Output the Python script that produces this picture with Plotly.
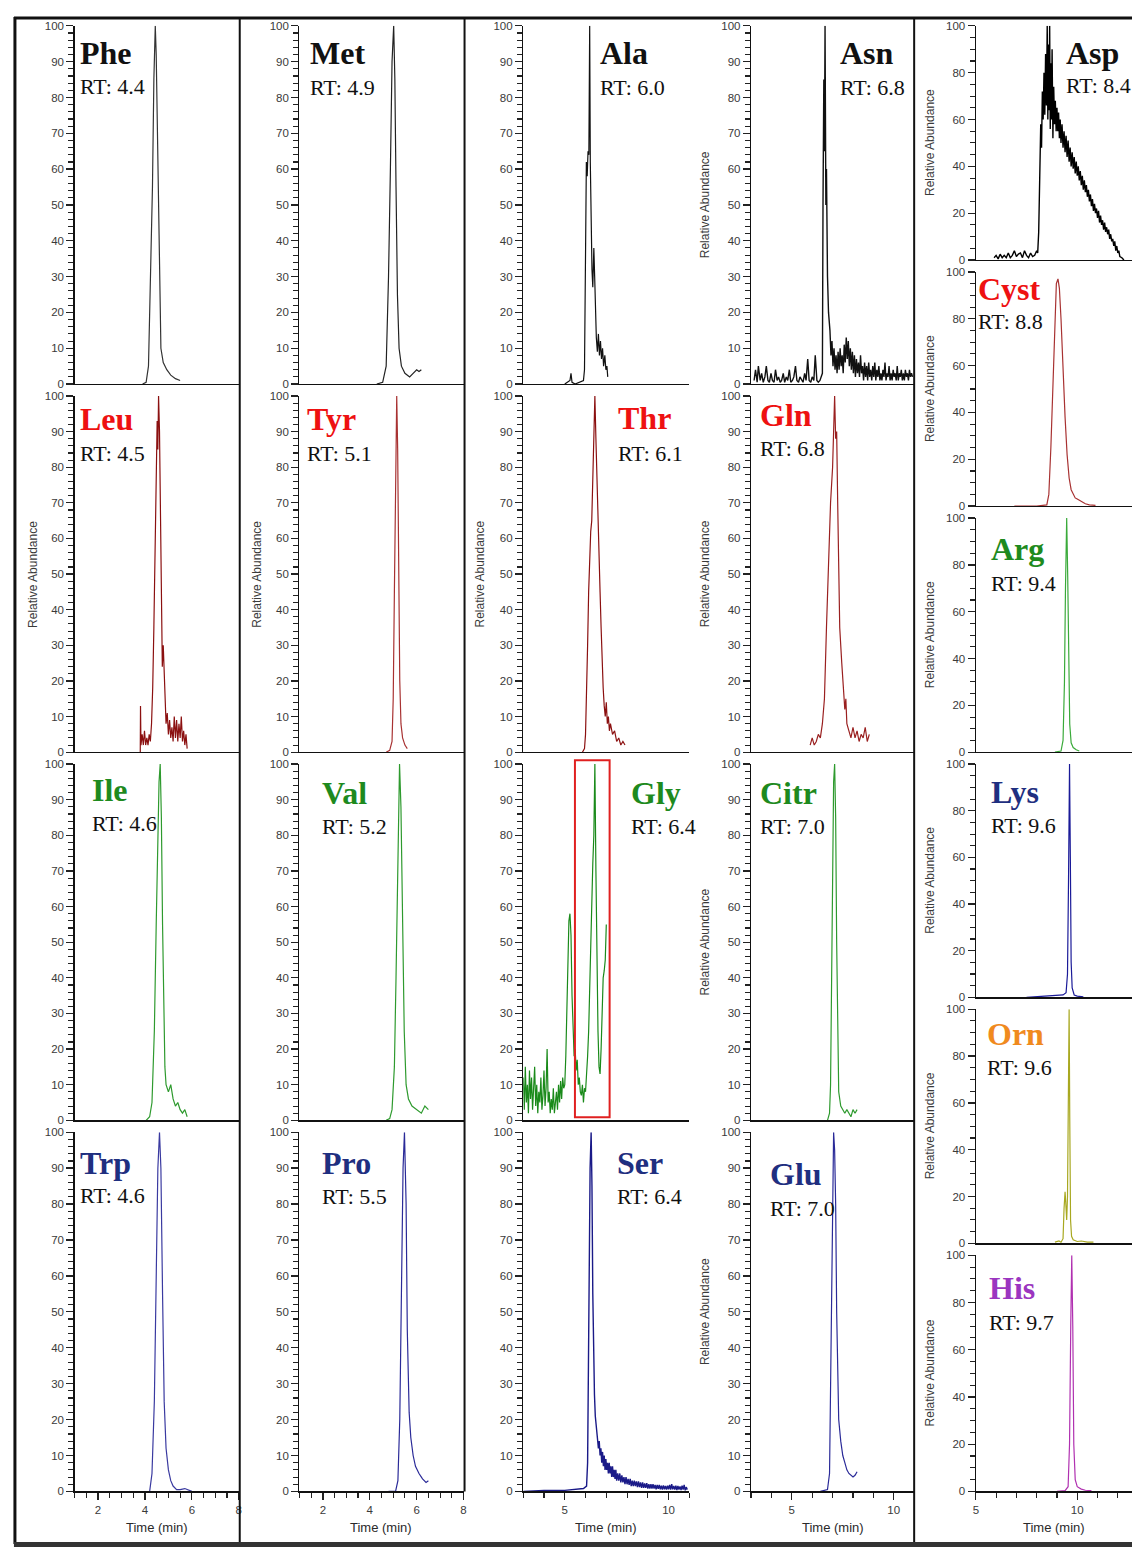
import plotly.graph_objects as go

W, H = 1135, 1553

# ---------------- data: (time [min], relative abundance [%]) ----------------
phe = [(3.9,0),(4.05,0.5),(4.15,5),(4.25,30),(4.32,55),(4.38,85),(4.44,100),(4.48,92),(4.53,70),(4.58,45),
       (4.63,22),(4.68,10),(4.78,6),(4.93,4),(5.1,2.5),(5.3,1.5),(5.5,1)]
met = [(4.3,0),(4.55,0.5),(4.7,5),(4.8,30),(4.88,60),(4.95,90),(5.02,100),(5.07,85),(5.12,55),(5.18,25),
       (5.25,10),(5.35,5),(5.5,3),(5.7,2),(5.85,3),(6.0,4),(6.1,3.5),(6.2,4)]
ala = [(5.0,0),(5.15,0.5),(5.25,1),(5.3,3),(5.35,0.5),(5.5,0),(5.7,0.5),(5.9,1),(5.95,4),(6.0,35),(6.04,62),
       (6.08,58),(6.12,65),(6.16,64),(6.2,100),(6.23,62),(6.27,45),(6.31,32),(6.35,27),(6.4,38),(6.44,30),
       (6.48,20),(6.52,13),(6.57,9),(6.62,14),(6.67,8),(6.72,12),(6.77,7),(6.82,10),(6.87,5),(6.93,8),
       (6.98,4),(7.03,5),(7.07,2)]
asn = [(3.15,1),(3.22,4),(3.3,0.5),(3.36,5),(3.45,1),(3.52,3),(3.6,0.5),(3.68,2),(3.75,5),(3.83,1),
       (3.9,0.5),(3.98,3),(4.05,1),(4.13,0.5),(4.2,4),(4.28,1),(4.35,2),(4.43,0.5),(4.5,1),(4.58,3),
       (4.65,0.5),(4.73,2),(4.8,1),(4.88,4),(4.95,0.5),(5.03,1),(5.1,2),(5.18,5),(5.25,1),(5.33,0.5),
       (5.4,2),(5.48,1),(5.55,0.5),(5.63,3),(5.7,1),(5.78,7),(5.85,1),(5.93,0.5),(6.0,2),(6.08,1),
       (6.15,8),(6.23,1),(6.3,0.5),(6.38,1),(6.45,2),(6.5,3),(6.53,50),(6.57,85),(6.6,65),(6.63,100),
       (6.67,50),(6.7,60),(6.75,30),(6.8,20),(6.87,15),(6.92,8),(6.97,12),(7.02,5),(7.07,10),(7.12,4),
       (7.17,8),(7.22,3),(7.27,9),(7.32,4),(7.37,10),(7.42,5),(7.47,8),(7.52,3),(7.57,11),(7.62,6),
       (7.67,13),(7.72,7),(7.77,12),(7.82,5),(7.87,10),(7.92,4),(7.97,9),(8.02,3),(8.07,8),(8.12,2),
       (8.17,7),(8.22,3),(8.27,6),(8.32,2),(8.37,8),(8.42,3),(8.47,5),(8.52,1),(8.57,6),(8.62,2),
       (8.67,5),(8.72,1),(8.77,6),(8.82,2),(8.87,4),(8.92,1),(8.97,5),(9.02,2),(9.07,6),(9.12,1),
       (9.17,4),(9.22,2),(9.27,5),(9.32,1),(9.37,3),(9.42,1),(9.47,4),(9.52,2),(9.57,6),(9.62,1),
       (9.67,3),(9.72,2),(9.77,5),(9.82,1),(9.87,3),(9.92,1),(9.97,4),(10.02,2),(10.07,3),(10.12,1),
       (10.17,5),(10.22,1),(10.27,3),(10.32,2),(10.37,4),(10.42,1),(10.47,3),(10.52,1),(10.57,4),
       (10.62,2),(10.67,3),(10.72,1),(10.77,4),(10.82,2),(10.87,3),(10.92,2)]
asp = [(5.9,1),(6.0,2),(6.1,0.5),(6.2,2.5),(6.3,1),(6.4,2),(6.5,1),(6.6,3),(6.7,1),(6.8,2),(6.9,4),
       (7.0,1.5),(7.1,2.5),(7.2,3),(7.3,1),(7.4,4),(7.5,2),(7.6,1),(7.7,3),(7.8,1.5),(7.9,2),(8.0,4),
       (8.05,3),(8.1,12),(8.15,35),(8.2,58),(8.24,48),(8.28,72),(8.32,60),(8.36,80),(8.4,62),(8.44,88),
       (8.48,66),(8.52,100),(8.55,60),(8.58,92),(8.61,64),(8.64,100),(8.67,56),(8.7,84),(8.73,60),
       (8.76,90),(8.8,52),(8.84,74),(8.88,58),(8.92,68),(8.96,55),(9.0,65),(9.04,55),(9.08,63),(9.12,52),
       (9.16,60),(9.2,50),(9.25,58),(9.3,48),(9.35,55),(9.4,46),(9.45,53),(9.5,44),(9.55,51),(9.6,42),
       (9.65,48),(9.7,40),(9.75,46),(9.8,39),(9.85,44),(9.9,37),(9.95,42),(10.0,36),(10.05,40),(10.1,34),
       (10.15,38),(10.2,32),(10.25,36),(10.3,30),(10.35,34),(10.4,29),(10.45,32),(10.5,27),(10.55,30),
       (10.6,25),(10.65,28),(10.7,23),(10.75,26),(10.8,21),(10.85,24),(10.9,20),(10.95,22),(11.0,18),
       (11.05,21),(11.1,16),(11.15,19),(11.2,15),(11.25,17),(11.3,13),(11.35,16),(11.4,12),(11.45,14),
       (11.5,11),(11.55,13),(11.6,9),(11.65,11),(11.7,8),(11.75,9),(11.8,6),(11.85,8),(11.9,4),(11.95,6),
       (12.0,3),(12.05,4),(12.1,1.5),(12.2,1),(12.3,0)]
leu = [(3.8,0),(3.81,13),(3.83,2),(3.88,5),(3.93,2),(3.98,6),(4.03,2),(4.08,4),(4.13,2),(4.18,5),(4.23,3),
       (4.28,8),(4.33,18),(4.38,35),(4.43,60),(4.48,82),(4.52,93),(4.55,85),(4.58,100),(4.62,90),(4.66,62),
       (4.7,38),(4.74,24),(4.78,30),(4.82,22),(4.86,13),(4.9,8),(4.95,11),(5.0,5),(5.05,9),(5.1,4),(5.15,7),
       (5.2,3),(5.25,10),(5.3,4),(5.35,9),(5.4,3),(5.45,8),(5.5,4),(5.55,10),(5.6,3),(5.65,6),(5.7,2),
       (5.75,5),(5.8,1)]
tyr = [(4.7,0),(4.85,0.5),(4.95,3),(5.0,15),(5.05,45),(5.1,80),(5.15,100),(5.19,85),(5.23,50),(5.28,20),
       (5.33,8),(5.4,4),(5.5,2),(5.6,1)]
thr = [(5.85,0),(5.95,1),(6.0,5),(6.05,15),(6.1,30),(6.15,45),(6.2,58),(6.25,62),(6.3,65),(6.35,80),
       (6.4,92),(6.45,100),(6.5,88),(6.55,75),(6.6,62),(6.65,55),(6.7,45),(6.75,35),(6.8,25),(6.85,18),
       (6.9,13),(6.95,10),(7.0,14),(7.05,8),(7.1,10),(7.15,6),(7.2,8),(7.3,5),(7.4,6),(7.5,3),(7.6,4),
       (7.7,2),(7.8,3),(7.9,2)]
gln = [(5.9,2),(6.0,4),(6.1,2),(6.2,3),(6.3,5),(6.4,4),(6.5,8),(6.6,15),(6.7,35),(6.8,55),(6.9,70),
       (7.0,80),(7.05,95),(7.1,100),(7.15,88),(7.2,90),(7.25,70),(7.3,55),(7.35,35),(7.45,25),(7.55,18),
       (7.6,12),(7.65,15),(7.7,8),(7.8,6),(7.9,4),(8.0,7),(8.1,4),(8.2,6),(8.3,3),(8.4,5),(8.5,4),(8.6,7),
       (8.7,3),(8.8,5)]
cyst = [(6.9,0),(8.0,0),(8.5,0.5),(8.6,5),(8.7,25),(8.8,55),(8.9,85),(8.97,95),(9.05,97),(9.12,93),
        (9.2,80),(9.3,55),(9.4,38),(9.5,22),(9.6,12),(9.7,7),(9.8,5),(9.9,3.5),(10.0,3),(10.2,2),(10.4,1),
        (10.6,0.5),(10.9,0.3)]
ile = [(4.05,0),(4.2,1),(4.3,5),(4.4,25),(4.48,55),(4.55,85),(4.6,95),(4.65,100),(4.7,85),(4.75,55),
       (4.8,30),(4.85,15),(4.9,10),(5.0,8),(5.1,10),(5.2,6),(5.3,4),(5.4,5),(5.5,3),(5.6,2),(5.7,3),(5.8,1)]
val = [(4.7,0),(4.85,0.5),(4.95,3),(5.05,15),(5.12,40),(5.2,75),(5.27,100),(5.33,88),(5.4,55),(5.47,25),
       (5.55,10),(5.65,6),(5.8,4),(6.0,3),(6.2,2),(6.35,4),(6.5,3)]
gly = [(3.0,12),(3.05,3),(3.1,15),(3.15,5),(3.2,10),(3.25,2),(3.3,14),(3.35,6),(3.4,12),(3.45,3),(3.5,9),
       (3.55,15),(3.6,4),(3.65,10),(3.7,2),(3.75,8),(3.8,5),(3.85,12),(3.9,3),(3.95,7),(4.0,14),(4.05,4),
       (4.1,9),(4.15,20),(4.2,5),(4.25,8),(4.3,2),(4.35,6),(4.4,3),(4.45,9),(4.5,2),(4.55,5),(4.6,8),
       (4.65,3),(4.7,10),(4.75,5),(4.8,11),(4.85,6),(4.9,12),(4.95,9),(5.0,10),(5.05,18),(5.1,30),
       (5.15,45),(5.2,56),(5.25,58),(5.3,52),(5.35,35),(5.4,22),(5.45,18),(5.5,20),(5.55,14),(5.6,17),
       (5.65,10),(5.7,12),(5.75,8),(5.8,7),(5.85,10),(5.9,5),(5.95,9),(6.0,8),(6.05,12),(6.1,18),(6.15,25),
       (6.2,38),(6.25,50),(6.3,55),(6.35,72),(6.4,80),(6.45,100),(6.5,70),(6.55,35),(6.6,25),(6.65,15),
       (6.7,13),(6.75,20),(6.8,28),(6.85,40),(6.9,42),(6.95,45),(7.0,55)]
citr = [(6.75,0),(6.85,2),(6.9,10),(6.95,35),(7.0,70),(7.05,95),(7.1,100),(7.15,85),(7.2,50),(7.25,20),
        (7.3,8),(7.4,4),(7.5,3),(7.6,2),(7.7,3),(7.8,2),(7.9,1),(8.0,3),(8.1,2),(8.2,3)]
arg = [(8.9,0),(9.2,0.5),(9.3,5),(9.37,30),(9.42,70),(9.48,100),(9.53,75),(9.58,35),(9.63,12),(9.7,4),
       (9.8,2),(9.95,1),(10.1,0.5)]
trp = [(4.2,0),(4.3,5),(4.4,25),(4.48,60),(4.55,90),(4.62,100),(4.68,90),(4.75,55),(4.82,25),(4.9,12),
       (5.0,6),(5.1,3),(5.2,1.5),(5.35,0.5),(5.5,0.5),(5.7,0.8),(5.85,0.5),(6.0,0)]
pro = [(4.8,0),(5.1,0),(5.2,3),(5.28,20),(5.35,55),(5.42,90),(5.48,100),(5.55,80),(5.6,45),(5.68,22),
       (5.75,15),(5.85,10),(5.95,7),(6.1,5),(6.25,3.5),(6.4,2.5),(6.5,3)]
ser = [(3.0,0),(4.0,0.3),(5.0,0.3),(5.6,0.6),(5.9,0.8),(6.05,1.5),(6.1,8),(6.14,35),(6.18,70),(6.22,90),
       (6.27,100),(6.31,85),(6.35,55),(6.39,35),(6.43,27),(6.47,21),(6.52,17),(6.57,15),(6.62,12),(6.66,14),
       (6.7,10),(6.74,12),(6.78,8),(6.82,11),(6.86,7),(6.9,10),(6.94,6),(6.98,9),(7.02,6),(7.06,8),(7.1,5),
       (7.14,8),(7.18,5),(7.22,7),(7.26,4),(7.3,7),(7.34,4),(7.38,6),(7.42,3.5),(7.46,6),(7.5,3),(7.55,5),
       (7.6,3),(7.65,5),(7.7,2.5),(7.75,4.5),(7.8,2.5),(7.85,4),(7.9,2),(7.95,4),(8.0,2),(8.05,3.5),
       (8.1,1.8),(8.15,3.5),(8.2,1.5),(8.25,3),(8.3,1.5),(8.35,3),(8.4,1.5),(8.45,2.8),(8.5,1.2),(8.55,2.8),
       (8.6,1.2),(8.65,2.5),(8.7,1),(8.75,2.5),(8.8,1),(8.85,2.2),(8.9,1),(8.95,2.3),(9.0,0.8),(9.05,2),
       (9.1,0.8),(9.15,2),(9.2,0.8),(9.25,2),(9.3,0.8),(9.35,1.8),(9.4,0.6),(9.45,1.8),(9.5,0.7),(9.55,1.8),
       (9.6,0.6),(9.65,1.6),(9.7,0.5),(9.75,1.7),(9.8,0.6),(9.85,1.5),(9.9,0.5),(9.95,1.6),(10.0,0.6),
       (10.05,1.8),(10.1,0.5),(10.15,2),(10.2,0.6),(10.25,1.5),(10.3,0.5),(10.35,1.6),(10.4,0.4),(10.45,1.5),
       (10.5,0.5),(10.55,1.4),(10.6,0.4),(10.65,1.6),(10.7,0.5),(10.75,1.8),(10.8,0.3),(10.85,1.2),(10.9,0.5)]
glu = [(6.4,0),(6.75,0.5),(6.85,5),(6.9,30),(6.95,65),(7.0,90),(7.05,100),(7.1,95),(7.15,80),(7.2,50),
       (7.25,30),(7.3,20),(7.4,14),(7.5,10),(7.6,8),(7.7,6),(7.8,5),(7.9,4.5),(8.0,4),(8.1,4.5),(8.2,5.5)]
lys = [(7.5,0),(8.0,0.3),(8.5,0.5),(9.0,0.8),(9.3,1),(9.45,2),(9.52,10),(9.57,50),(9.62,100),(9.66,60),
       (9.7,15),(9.75,4),(9.85,1),(10.0,0.5),(10.3,0.2)]
orn = [(8.9,0.5),(9.1,1),(9.2,0.5),(9.3,2),(9.35,15),(9.4,22),(9.43,18),(9.48,10),(9.52,20),(9.56,60),
       (9.6,100),(9.63,55),(9.67,10),(9.72,3),(9.8,1.5),(10.0,0.8),(10.2,1),(10.5,0.5),(10.8,0.5)]
his = [(9.0,0),(9.4,0.3),(9.55,2),(9.62,20),(9.68,70),(9.73,100),(9.78,70),(9.83,20),(9.9,5),(10.0,2),
       (10.2,1),(10.4,0.5),(10.7,0.3)]

names = ["Phe","Leu","Ile","Trp","Met","Tyr","Val","Pro","Ala","Thr","Gly","Ser",
         "Asn","Gln","Citr","Glu","Asp","Cyst","Arg","Lys","Orn","His"]
rts = ["4.4","4.5","4.6","4.6","4.9","5.1","5.2","5.5","6.0","6.1","6.4","6.4",
       "6.8","6.8","7.0","7.0","8.4","8.8","9.4","9.6","9.6","9.7"]
series = [phe, leu, ile, trp, met, tyr, val, pro, ala, thr, gly, ser,
          asn, gln, citr, glu, asp, cyst, arg, lys, orn, his]

# ---------------- layout / styling (pixel geometry) ----------------
panel_col = [1,1,1,1, 2,2,2,2, 3,3,3,3, 4,4,4,4, 5,5,5,5,5,5]
panel_row = [0,1,2,3, 0,1,2,3, 0,1,2,3, 0,1,2,3, 0,1,2,3,4,5]
COLS = {1: (72, 237, [1, 8]), 2: (298, 463, [1, 8]), 3: (523, 690, [3, 11]),
        4: (752, 916, [3, 11]), 5: (978, 1135, [5, 12.7])}
ROWS4 = [(20, 381), (393, 752), (764, 1123), (1135, 1497)]
ROWS6 = [(20, 256), (268, 504), (516, 752), (764, 999), (1011, 1247), (1259, 1497)]

BLACK, RED, GREEN, NAVY = "#111111", "#ee1111", "#1e8a1e", "#1f2f80"
label_color = {"Phe": BLACK, "Met": BLACK, "Ala": BLACK, "Asn": BLACK, "Asp": BLACK,
               "Leu": RED, "Tyr": RED, "Thr": RED, "Gln": RED, "Cyst": RED,
               "Ile": GREEN, "Val": GREEN, "Gly": GREEN, "Citr": GREEN, "Arg": GREEN,
               "Trp": NAVY, "Pro": NAVY, "Ser": NAVY, "Glu": NAVY, "Lys": NAVY,
               "Orn": "#f08a1e", "His": "#9b35c0"}
line_color = {"Phe": "#333333", "Met": "#222222", "Ala": "#111111", "Asn": "#111111", "Asp": "#000000",
              "Leu": "#8b1010", "Tyr": "#a83232", "Thr": "#8b1010", "Gln": "#9a2020", "Cyst": "#a83232",
              "Ile": "#2e9a2e", "Val": "#2e9a2e", "Gly": "#1a8a1a", "Citr": "#2e9a2e", "Arg": "#3aaa3a",
              "Trp": "#3a3aa0", "Pro": "#2a2a98", "Ser": "#1a1a88", "Glu": "#2a2a98", "Lys": "#1a1a98",
              "Orn": "#a8a820", "His": "#b030b0"}
# (left x, name centre y, RT centre y) in pixels
label_pos = {"Phe": (76, 47, 81), "Met": (308, 47, 82), "Ala": (599, 47, 82), "Asn": (840, 47, 82),
             "Asp": (1068, 47, 80), "Leu": (76, 416, 451), "Tyr": (305, 416, 451), "Thr": (617, 415, 451),
             "Gln": (760, 412, 446), "Cyst": (979, 285, 318), "Ile": (88, 790, 824), "Val": (320, 793, 827),
             "Gly": (630, 793, 827), "Citr": (760, 793, 827), "Arg": (992, 547, 582),
             "Trp": (76, 1166, 1199), "Pro": (320, 1166, 1200), "Ser": (616, 1166, 1200),
             "Glu": (770, 1177, 1212), "Lys": (992, 792, 826), "Orn": (988, 1036, 1070),
             "His": (990, 1292, 1327)}
rel_abund = {"Leu": 30, "Tyr": 255, "Thr": 480, "Asn": 706, "Gln": 706, "Citr": 706, "Glu": 706,
             "Asp": 932, "Cyst": 932, "Arg": 932, "Lys": 932, "Orn": 932, "His": 932}

TICKFONT = dict(family="Liberation Sans, Arial", size=11.5, color="#3a3a3a")

def px(x):
    return x / W

def py(y):
    return 1 - y / H

fig = go.Figure()
layout = {}
annotations = []
shapes = []

for i, (nm, rt, data) in enumerate(zip(names, rts, series), start=1):
    col = panel_col[i - 1]
    row = panel_row[i - 1]
    xl, xr, xrng = COLS[col]
    rows = ROWS6 if col == 5 else ROWS4
    yt, yb = rows[row]
    bottom = row == len(rows) - 1
    xa = "x" if i == 1 else f"x{i}"
    ya = "y" if i == 1 else f"y{i}"
    t = [p[0] for p in data]
    a = [p[1] for p in data]
    fig.add_trace(go.Scatter(x=t, y=a, mode="lines", xaxis=xa, yaxis=ya, showlegend=False,
                             hoverinfo="skip",
                             line=dict(color=line_color[nm], width=1.4 if nm in ("Asp", "Asn", "Ser") else 1.2)))
    xdt, xminor = (2, 0.5) if col in (1, 2) else (5, 1)
    xaxis = dict(domain=[px(xl), px(xr)], anchor=ya, range=xrng, showline=True, linecolor="#111111",
                 linewidth=1.3, showgrid=False, zeroline=False, fixedrange=True)
    if bottom:
        xaxis.update(ticks="outside", tick0=0, dtick=xdt, ticklen=7, tickwidth=1.3, tickcolor="#222222",
                     showticklabels=True, tickfont=TICKFONT,
                     minor=dict(dtick=xminor, ticks="outside", ticklen=5, tickwidth=1.1, tickcolor="#222222"))
    else:
        xaxis.update(ticks="", showticklabels=False)
    ydt, yminor = (20, 5) if col == 5 else (10, 2)
    yaxis = dict(domain=[py(yb), py(yt)], anchor=xa, range=[0, 100], showline=True, linecolor="#111111",
                 linewidth=1.3, showgrid=False, zeroline=False, fixedrange=True,
                 ticks="outside", tick0=0, dtick=ydt, ticklen=7, tickwidth=1.3, tickcolor="#222222",
                 tickfont=TICKFONT,
                 minor=dict(dtick=yminor, ticks="outside", ticklen=5, tickwidth=1.1, tickcolor="#222222"))
    layout["xaxis" if i == 1 else f"xaxis{i}"] = xaxis
    layout["yaxis" if i == 1 else f"yaxis{i}"] = yaxis

    lx, ny, ry = label_pos[nm]
    annotations.append(dict(x=px(lx), y=py(ny), xref="paper", yref="paper", xanchor="left", yanchor="middle",
                            text=f"<b>{nm}</b>", showarrow=False, borderpad=0,
                            font=dict(family="Liberation Serif, Times New Roman", size=32,
                                      color=label_color[nm])))
    annotations.append(dict(x=px(lx), y=py(ry), xref="paper", yref="paper", xanchor="left", yanchor="middle",
                            text=f"RT: {rt}", showarrow=False, borderpad=0,
                            font=dict(family="Liberation Serif, Times New Roman", size=22, color="#111111")))
    if nm in rel_abund:
        annotations.append(dict(x=px(rel_abund[nm]), y=py((yt + yb) / 2), xref="paper", yref="paper",
                                xanchor="center", yanchor="middle", text="Relative Abundance",
                                textangle=-90, showarrow=False,
                                font=dict(family="Liberation Sans, Arial", size=12, color="#3a3a3a")))
    if bottom:
        annotations.append(dict(x=px((xl + min(xr, 1135)) / 2 if col != 5 else 1057), y=py(1533),
                                xref="paper", yref="paper", xanchor="center", yanchor="middle",
                                text="Time (min)", showarrow=False,
                                font=dict(family="Liberation Sans, Arial", size=13, color="#2a2a2a")))
    if nm == "Gly":
        shapes.append(dict(type="rect", xref=xa, yref="paper", x0=5.49, x1=7.16,
                           y0=py(1120), y1=py(760), line=dict(color="#e02020", width=2)))

# frame and column separators
frame = dict(color="#111111", width=3)
shapes += [
    dict(type="line", xref="paper", yref="paper", x0=px(11), x1=1, y0=py(12), y1=py(12), line=frame),
    dict(type="line", xref="paper", yref="paper", x0=px(12), x1=px(12), y0=py(11), y1=py(1550), line=frame),
    dict(type="rect", xref="paper", yref="paper", x0=px(11), x1=1, y0=0, y1=py(1548),
         fillcolor="#333333", line=dict(width=0)),
    dict(type="line", xref="paper", yref="paper", x0=px(238), x1=px(238), y0=py(12), y1=py(1548),
         line=dict(color="#111111", width=2)),
    dict(type="line", xref="paper", yref="paper", x0=px(464), x1=px(464), y0=py(12), y1=py(1497),
         line=dict(color="#111111", width=2)),
    dict(type="line", xref="paper", yref="paper", x0=px(916), x1=px(916), y0=py(12), y1=py(1548),
         line=dict(color="#111111", width=2)),
]

fig.update_layout(width=W, height=H, margin=dict(l=0, r=0, t=0, b=0), paper_bgcolor="white",
                  plot_bgcolor="white", showlegend=False, annotations=annotations, shapes=shapes,
                  **layout)
fig.write_html("out.html", config={"displayModeBar": False, "staticPlot": True},
               post_script="document.body.style.margin='0px';document.body.style.overflow='hidden';")
